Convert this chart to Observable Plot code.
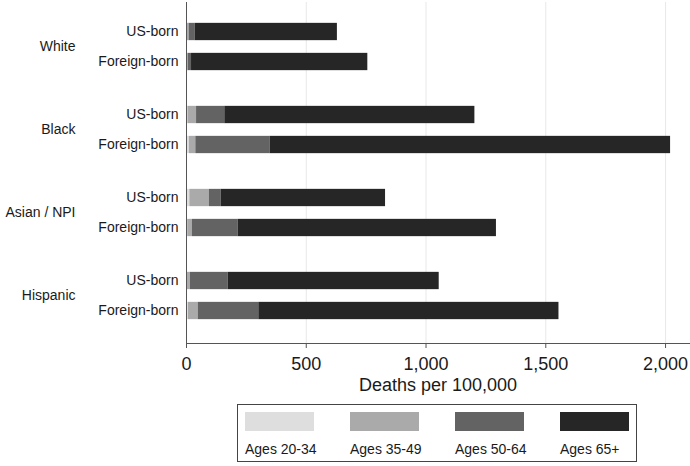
<!DOCTYPE html>
<html>
<head>
<meta charset="utf-8">
<script src="https://cdn.jsdelivr.net/npm/d3@7"></script>
<script src="https://cdn.jsdelivr.net/npm/@observablehq/plot@0.6"></script>
<style>
  body { margin: 0; background: #fff; font-family: "Liberation Sans", Arial, sans-serif; }
  #chart svg { display: block; }
  #legend { position: relative; width: 690px; height: 66px; }
  #legend .box { position: absolute; left: 237px; top: 4px; width: 400px; height: 58px; border: 1px solid #444; box-sizing: border-box; }
  #legend .sw { position: absolute; top: 7px; width: 69px; height: 19px; }
  #legend .lab { position: absolute; top: 36px; font-size: 14px; color: #1a1a1a; white-space: nowrap; }
</style>
</head>
<body>
<div id="chart"></div>
<div id="legend"></div>
<script>
const races = ["White", "Black", "Asian / NPI", "Hispanic"];
const births = ["US-born", "Foreign-born"];
const ages = ["Ages 20-34", "Ages 35-49", "Ages 50-64", "Ages 65+"];
// order: White US, White FB, Black US, Black FB, Asian US, Asian FB, Hispanic US, Hispanic FB
const age2034 = [3, 2, 6, 12, 14, 5, 4, 8];
const age3549 = [8, 5, 36, 27, 82, 20, 12, 41];
const age5064 = [25, 14, 118, 310, 49, 191, 158, 253];
const age65plus = [594, 736, 1044, 1672, 686, 1078, 881, 1253];
const xTicks = [0, 500, 1000, 1500, 2000];
const gridTicks = [500, 1000, 1500, 2000];
const colors = ["#dedede", "#aaaaaa", "#636363", "#262626"];

const series = [age2034, age3549, age5064, age65plus];
const rows = [];
races.forEach((race, i) => {
  births.forEach((birth, j) => {
    const k = i * 2 + j;
    ages.forEach((age, a) => rows.push({race, birth, age, value: series[a][k]}));
  });
});
const labelRows = races.flatMap(race => births.map(birth => ({race, birth})));

const inset = (83.7 - 18) / 2;
const barOpts = (birth) => Plot.stackX(
  {order: ages},
  {
    filter: d => d.birth === birth,
    y: "race", x: "value", fill: "age",
    insetTop: inset, insetBottom: inset,
    dy: birth === "US-born" ? -15 : 15
  }
);

const plot = Plot.plot({
  width: 690,
  height: 400,
  marginTop: 2,
  marginBottom: 57,
  marginLeft: 186,
  marginRight: 1,
  style: {fontFamily: "'Liberation Sans', Arial, sans-serif", color: "#1a1a1a", background: "#fff"},
  x: {domain: [0, 2100]},
  y: {domain: races, paddingInner: 0, paddingOuter: 0.037, align: 0.35},
  color: {domain: ages, range: colors},
  marks: [
    Plot.gridX(gridTicks, {stroke: "#e8e8e8", strokeOpacity: 1}),
    Plot.barX(rows, barOpts("US-born")),
    Plot.barX(rows, barOpts("Foreign-born")),
    Plot.frame({anchor: "left", stroke: "#555"}),
    Plot.frame({anchor: "bottom", stroke: "#555"}),
    Plot.axisX(xTicks, {tickSize: 5, tickPadding: 9, fontSize: 18, tickFormat: d3.format(","), label: null, stroke: "#555"}),
    Plot.axisY({tickSize: 0, tickPadding: 111, fontSize: 14, label: null}),
    Plot.text(labelRows.filter(d => d.birth === "US-born"), {y: "race", text: "birth", frameAnchor: "left", textAnchor: "end", dx: -8, dy: -15, fontSize: 14, fill: "#1a1a1a"}),
    Plot.text(labelRows.filter(d => d.birth === "Foreign-born"), {y: "race", text: "birth", frameAnchor: "left", textAnchor: "end", dx: -8, dy: 15, fontSize: 14, fill: "#1a1a1a"}),
    Plot.text(["Deaths per 100,000"], {frameAnchor: "bottom", dy: 47, fontSize: 18, fill: "#1a1a1a"})
  ]
});
document.getElementById("chart").appendChild(plot);

// legend
const legend = document.getElementById("legend");
const box = document.createElement("div");
box.className = "box";
legend.appendChild(box);
ages.forEach((age, i) => {
  const sw = document.createElement("div");
  sw.className = "sw";
  sw.style.left = (7 + i * 105) + "px";
  sw.style.background = colors[i];
  box.appendChild(sw);
  const lab = document.createElement("div");
  lab.className = "lab";
  lab.style.left = (7 + i * 105) + "px";
  lab.textContent = age;
  box.appendChild(lab);
});
</script>
</body>
</html>
